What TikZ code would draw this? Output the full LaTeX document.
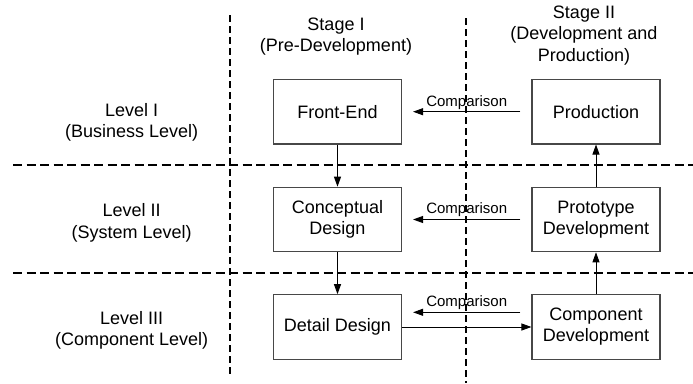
\documentclass[tikz,border=0pt]{standalone}
\usepackage{fontspec}
\setmainfont{Liberation Sans}
\usetikzlibrary{arrows.meta}

\tikzset{
  stagebox/.style={draw=black!72, line width=1.1pt, minimum width=128pt,
    minimum height=64.5pt, inner sep=0pt, align=center,
    font=\fontsize{18}{21}\selectfont},
  lbl/.style={align=center, inner sep=0pt, font=\fontsize{18}{21.6}\selectfont},
  cmplbl/.style={inner sep=0pt, font=\fontsize{15}{18}\selectfont},
  hsep/.style={line width=1.9pt, dash pattern=on 9pt off 4.5pt},
  vsep/.style={line width=1.9pt, dash pattern=on 7pt off 4pt},
  flow/.style={line width=0.9pt, -{Triangle[length=10pt,width=7pt]}}
}

\begin{document}
\begin{tikzpicture}[x=1pt, y=-1pt]
  \useasboundingbox (0,0) rectangle (693,383);

  % grid of stages and levels
  \coordinate (h1a) at (13,165);   \coordinate (h1b) at (693,165);
  \coordinate (h2a) at (13,273.3); \coordinate (h2b) at (693,273.3);
  \coordinate (v1a) at (230,15);   \coordinate (v1b) at (230,377);
  \coordinate (v2a) at (466,18);   \coordinate (v2b) at (466,383);
  \draw[hsep] (h1a) -- (h1b);
  \draw[hsep] (h2a) -- (h2b);
  \draw[vsep] (v1a) -- (v1b);
  \draw[vsep] (v2a) -- (v2b);

  % headings
  \node[lbl] (st1) at (336,36.5) {Stage I\\(Pre-Development)};
  \node[lbl] (st2) at (584,35.5) {Stage II\\(Development and\\Production)};
  \node[lbl] (lv1) at (131.7,122.5) {Level I\\(Business Level)};
  \node[lbl] (lv2) at (131.7,223) {Level II\\(System Level)};
  \node[lbl] (lv3) at (131.7,330.5) {Level III\\(Component Level)};

  % activities
  \node[stagebox] (fe)   at (337.5,111.7) {Front-End};
  \node[stagebox] (cd)   at (337.5,219.5) {Conceptual\\Design};
  \node[stagebox] (dd)   at (337.5,327)   {Detail Design};
  \node[stagebox] (prod) at (596,111.7)   {Production};
  \node[stagebox] (pd)   at (596,219.5)   {Prototype\\Development};
  \node[stagebox] (cdev) at (596,327)     {Component\\Development};

  % development flow
  \draw[flow] (fe) -- (cd);
  \draw[flow] (cd) -- (dd);
  \draw[flow] (dd) -- (cdev);
  \draw[flow] (cdev) -- (pd);
  \draw[flow] (pd) -- (prod);

  % comparisons back to stage I
  \draw[flow] ([xshift=-11pt]prod.west) -- ([xshift=11pt]fe.east)
    node[cmplbl, midway, yshift=9.5pt] {Comparison};
  \draw[flow] ([xshift=-11pt]pd.west) -- ([xshift=11pt]cd.east)
    node[cmplbl, midway, yshift=9.5pt] {Comparison};
  \draw[flow] ([xshift=-11pt,yshift=14.7pt]cdev.west) -- ([xshift=11pt,yshift=14.7pt]dd.east)
    node[cmplbl, midway, yshift=9.5pt] {Comparison};
\end{tikzpicture}
\end{document}
